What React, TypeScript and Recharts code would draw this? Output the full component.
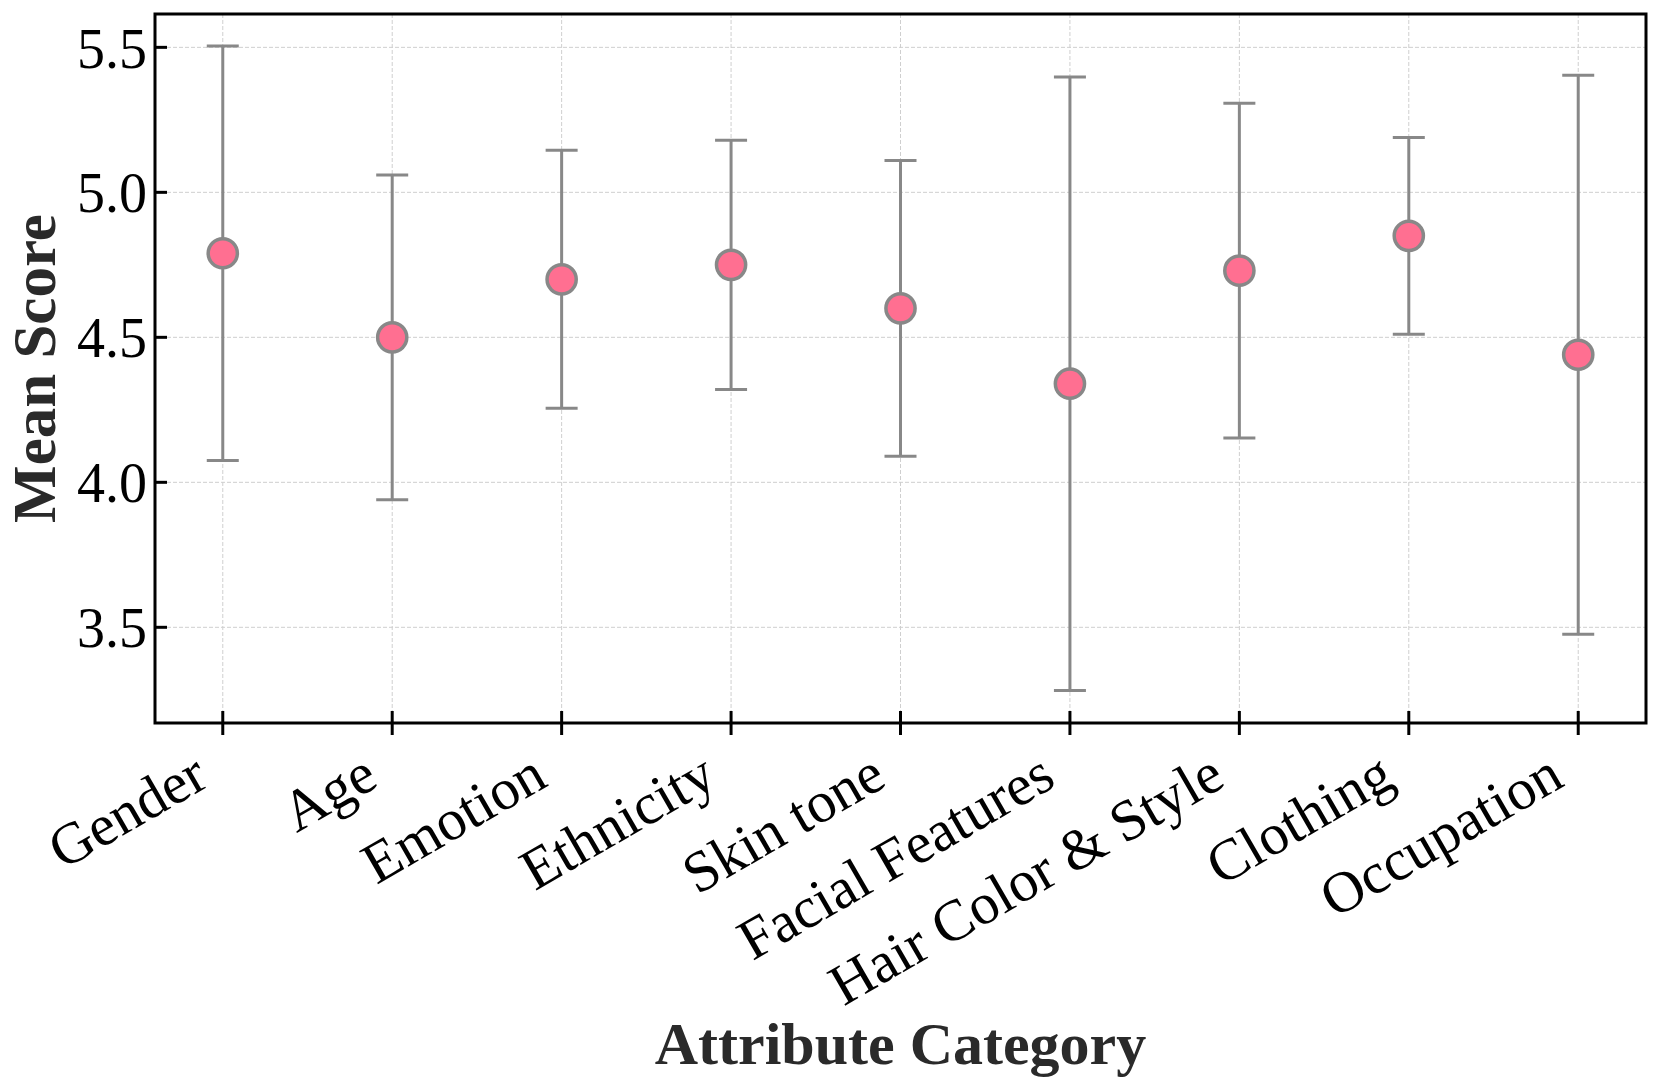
import React from "react";
import {
  ScatterChart,
  Scatter,
  XAxis,
  YAxis,
  CartesianGrid,
  ErrorBar,
  ReferenceArea,
  Label,
} from "recharts";

const categories = [
  "Gender",
  "Age",
  "Emotion",
  "Ethnicity",
  "Skin tone",
  "Facial Features",
  "Hair Color & Style",
  "Clothing",
  "Occupation",
];
const means = [4.79, 4.5, 4.7, 4.75, 4.6, 4.34, 4.73, 4.85, 4.44];
const errs = [0.715, 0.56, 0.445, 0.43, 0.51, 1.058, 0.577, 0.339, 0.964];
const yTicks = [3.5, 4.0, 4.5, 5.0, 5.5];

const X_DOMAIN: [number, number] = [-0.4, 8.4];
const Y_DOMAIN: [number, number] = [3.17, 5.615];

const rows = categories.map((name, i) => ({ idx: i, name, mean: means[i], err: errs[i] }));
const xTicks = categories.map((_, i) => i);

const FONT = '"Liberation Serif", "Times New Roman", serif';
const PINK = "#ff6f91";
const GREY = "#888888";

function XTick(props: any) {
  const { x, y, payload } = props;
  return (
    <g>
      <line x1={x} y1={y - 12} x2={x} y2={y + 12} stroke="#000" strokeWidth={3} />
      <text
        x={x - 12}
        y={y + 62}
        transform={`rotate(-30, ${x - 12}, ${y + 62})`}
        textAnchor="end"
        fontFamily={FONT}
        fontSize={58}
        fill="#000"
      >
        {categories[payload.value]}
      </text>
    </g>
  );
}

function YTick(props: any) {
  const { x, y, payload } = props;
  return (
    <g>
      <line x1={x} y1={y} x2={x + 12} y2={y} stroke="#000" strokeWidth={3} />
      <text
        x={x - 8}
        y={y}
        dy="0.36em"
        textAnchor="end"
        fontFamily={FONT}
        fontSize={56}
        fill="#000"
      >
        {Number(payload.value).toFixed(1)}
      </text>
    </g>
  );
}

function Dot(props: any) {
  const { cx, cy } = props;
  return <circle cx={cx} cy={cy} r={14.6} fill={PINK} stroke={GREY} strokeWidth={3.5} />;
}

function YTitle(props: any) {
  const { viewBox } = props;
  const cx = viewBox.x + 55;
  const cy = viewBox.y + viewBox.height / 2;
  return (
    <text
      transform={`translate(${cx}, ${cy}) rotate(-90)`}
      textAnchor="middle"
      fontFamily={FONT}
      fontWeight="bold"
      fontSize={61}
      fill="#2a2a2a"
    >
      Mean Score
    </text>
  );
}

export default function App() {
  return (
    <div style={{ position: "absolute", left: 0, top: 0, width: 1661, height: 1091, background: "#fff" }}>
      <ScatterChart
        width={1661}
        height={1091}
        margin={{ top: 14, right: 15, bottom: 0, left: 0 }}
      >
        <CartesianGrid stroke="#cfcfcf" strokeWidth={1} strokeDasharray="4 2" />
        <XAxis
          dataKey="idx"
          type="number"
          domain={X_DOMAIN}
          ticks={xTicks}
          allowDataOverflow
          height={368}
          tickSize={0}
          tickMargin={0}
          tickLine={false}
          axisLine={false}
          interval={0}
          tick={<XTick />}
        >
          <Label
            value="Attribute Category"
            position="insideBottom"
            offset={27}
            fontFamily={FONT}
            fontWeight="bold"
            fontSize={60}
            fill="#2a2a2a"
          />
        </XAxis>
        <YAxis
          dataKey="mean"
          type="number"
          domain={Y_DOMAIN}
          ticks={yTicks}
          allowDataOverflow
          width={155}
          tickSize={0}
          tickMargin={0}
          tickLine={false}
          axisLine={false}
          interval={0}
          tick={<YTick />}
          label={<YTitle />}
        />
        <Scatter data={rows} dataKey="mean" shape={<Dot />} isAnimationActive={false}>
          <ErrorBar dataKey="err" direction="y" width={16} stroke={GREY} strokeWidth={3} isAnimationActive={false} />
        </Scatter>
        <ReferenceArea
          x1={X_DOMAIN[0]}
          x2={X_DOMAIN[1]}
          y1={Y_DOMAIN[0]}
          y2={Y_DOMAIN[1]}
          fill="none"
          fillOpacity={0}
          stroke="#000"
          strokeWidth={3}
          ifOverflow="visible"
        />
      </ScatterChart>
    </div>
  );
}
